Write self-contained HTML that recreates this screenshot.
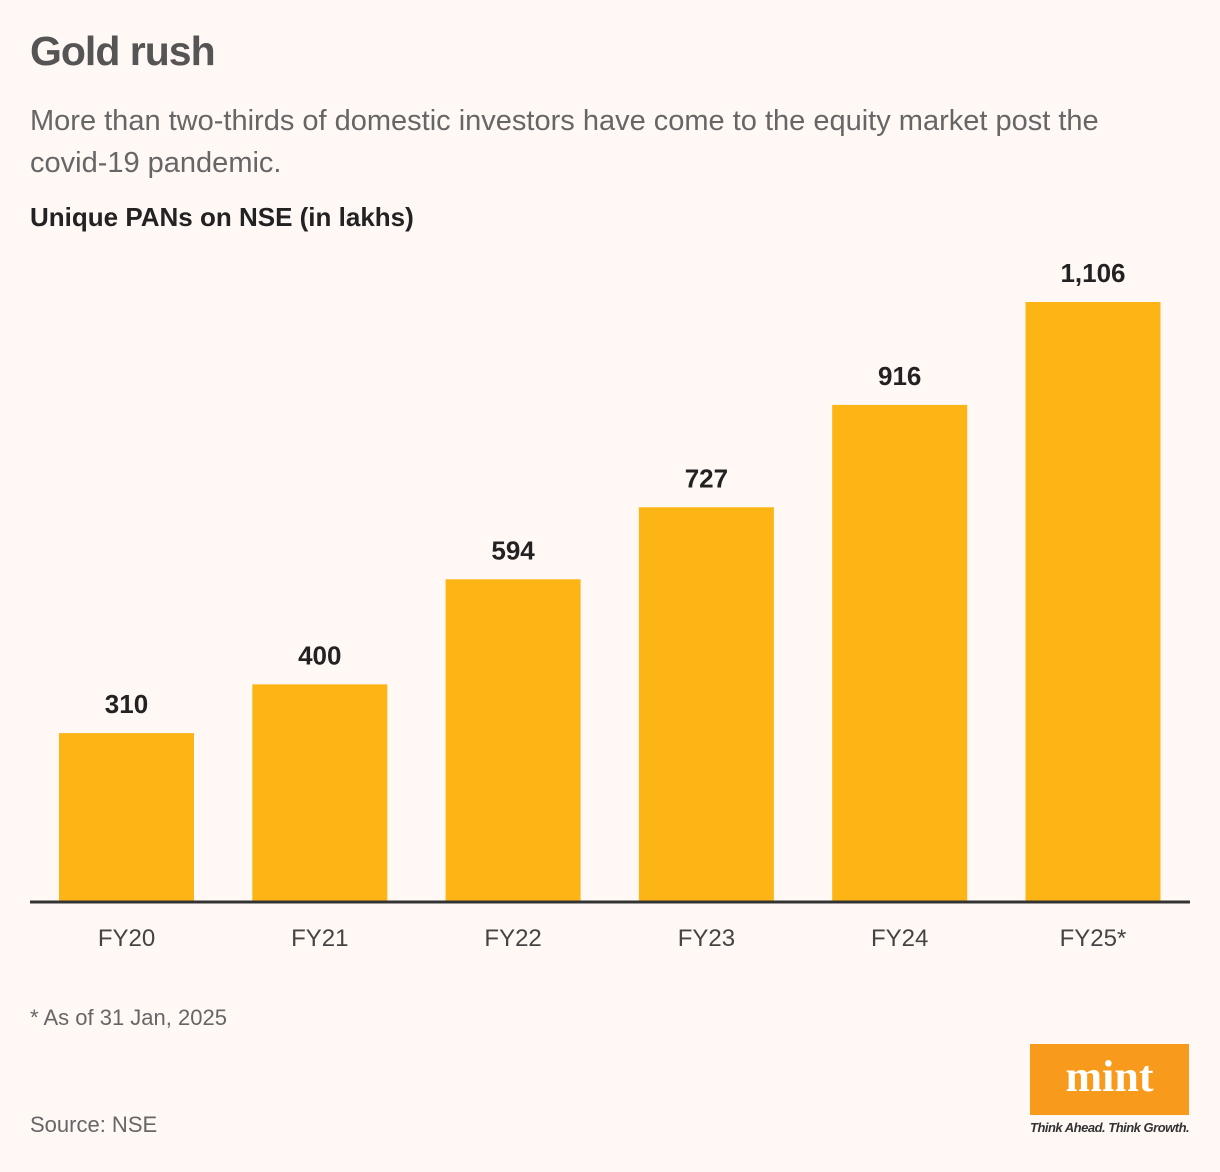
<!DOCTYPE html>
<html><head><meta charset="utf-8"><style>
body{margin:0;width:1220px;height:1172px;background:#fff8f5;font-family:"Liberation Sans",sans-serif;position:relative;overflow:hidden}
.t{position:absolute;margin:0}
</style></head><body>
<h1 class="t" style="left:30px;top:28px;font-size:41px;font-weight:bold;color:#555;letter-spacing:-1px">Gold rush</h1>
<p class="t" style="left:30px;top:100px;font-size:29px;line-height:42px;color:#666;width:1170px;white-space:nowrap">More than two-thirds of domestic investors have come to the equity market post the<br>covid-19 pandemic.</p>
<p class="t" style="left:30px;top:202px;font-size:26px;font-weight:bold;color:#222">Unique PANs on NSE (in lakhs)</p>
<svg id="chart" width="1220" height="1000" style="position:absolute;left:0;top:0"></svg>
<p class="t" style="left:30px;top:1005px;font-size:22px;color:#666">* As of 31 Jan, 2025</p>
<p class="t" style="left:30px;top:1112px;font-size:22px;color:#666">Source: NSE</p>
<div style="position:absolute;left:1030px;top:1044px;width:159px;height:71px;background:#f89a1c;color:#fff;font-family:'Liberation Serif',serif;font-weight:bold;font-size:44px;text-align:center;line-height:66px">mint</div>
<p class="t" style="left:1030px;top:1120px;font-size:13px;font-style:italic;font-weight:bold;color:#333;letter-spacing:-0.5px">Think Ahead. Think Growth.</p>
<script>
const categories=["FY20","FY21","FY22","FY23","FY24","FY25*"];
const values=[310,400,594,727,916,1106];
const valueLabels=["310","400","594","727","916","1,106"];
const svg=document.getElementById('chart');
const NS='http://www.w3.org/2000/svg';
const base=901,scale=599/1106;
const y=v=>base-v*scale;
const xc=i=>126.5+i*193.3;
const bw=135;
categories.forEach((c,i)=>{
 const r=document.createElementNS(NS,'rect');
 r.setAttribute('x',xc(i)-bw/2);r.setAttribute('y',y(values[i]));
 r.setAttribute('width',bw);r.setAttribute('height',base-y(values[i]));
 r.setAttribute('fill','#fdb515');
 
 
 svg.appendChild(r);
 const t=document.createElementNS(NS,'text');
 t.setAttribute('x',xc(i));t.setAttribute('y',y(values[i])-20);
 t.setAttribute('text-anchor','middle');t.setAttribute('font-size','26');t.setAttribute('font-weight','bold');t.setAttribute('fill','#222');
 t.textContent=valueLabels[i];
 
 
 svg.appendChild(t);
 const l=document.createElementNS(NS,'text');
 l.setAttribute('x',xc(i));l.setAttribute('y',946);
 l.setAttribute('text-anchor','middle');l.setAttribute('font-size','24');l.setAttribute('fill','#444');
 l.textContent=c;
 
 
 svg.appendChild(l);
});
const ax=document.createElementNS(NS,'line');
ax.setAttribute('x1',30);ax.setAttribute('x2',1190);ax.setAttribute('y1',base+1);ax.setAttribute('y2',base+1);
ax.setAttribute('stroke','#333');ax.setAttribute('stroke-width','3');


svg.appendChild(ax);
</script>
</body></html>
